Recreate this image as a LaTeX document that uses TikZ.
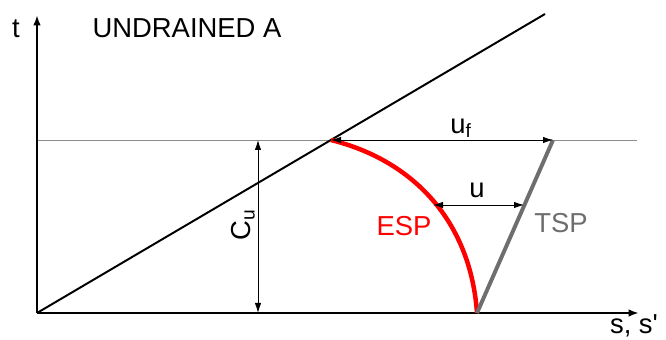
\documentclass[tikz,border=0pt]{standalone}
\usepackage{fontspec}
\setmainfont{Liberation Sans}
\usetikzlibrary{arrows.meta}
\usepackage{xcolor}
\definecolor{espred}{HTML}{FF0000}
\definecolor{tspgray}{HTML}{6E6E6E}
\definecolor{guide}{HTML}{8C8C8C}
\tikzset{
  axis/.style={line width=2.1pt, -{Latex[length=2.6mm, width=1.9mm]}},
  dim/.style={line width=0.6pt, {Latex[length=2.5mm, width=1.6mm]}-{Latex[length=2.5mm, width=1.6mm]}},
  lbl/.style={font=\fontsize{19.5}{22}\selectfont, inner sep=0pt},
  espline/.style={line width=3.2pt, draw=espred},
  tspline/.style={line width=2.8pt, draw=tspgray},
}

\begin{document}
\begin{tikzpicture}[x=0.025cm, y=0.025cm]
  \useasboundingbox (0,0) rectangle (666,340);
  % points of the plot
  \coordinate (O) at (37,27);
  \coordinate (ttop) at (37,325);
  \coordinate (send) at (639,27);
  \coordinate (kf) at (545,326);
  \coordinate (gl) at (37,200);
  \coordinate (gr) at (637,200);
  \coordinate (fail) at (331,200);
  \coordinate (tspA) at (477,27);
  \coordinate (tspB) at (553,200);
  \coordinate (ul) at (433,135);
  \coordinate (ur) at (524,135);
  \coordinate (cutop) at (258,200);
  \coordinate (cubot) at (258,27);
  % guide line and failure line
  \draw[guide, line width=0.6pt] (gl) -- (gr);
  \draw[line width=1.4pt] (O) -- (kf);
  % axes
  \draw[axis] (O) -- (ttop);
  \draw[axis] (O) -- (send);
  % stress paths
  \draw[espline] (fail) to[out=-14, in=94] (tspA);
  \draw[tspline] (tspA) -- (tspB);
  % dimensions
  \draw[dim] (fail) -- (tspB);
  \draw[dim] (ul) -- (ur);
  \draw[dim] (cutop) -- (cubot);
  % labels
  \node[lbl] (tlab) at (16,311) {t};
  \node[lbl] (title) at (187,312) {UNDRAINED A};
  \node[lbl] (slab) at (634,14) {s, s\textquotesingle};
  \node[lbl] (uflab) at (461,212) {u\textsubscript{f}};
  \node[lbl] (ulab) at (477,150) {u};
  \node[lbl, rotate=90] (culab) at (243,115) {C\textsubscript{u}};
  \node[lbl, text=espred] (esplab) at (404,114) {ESP};
  \node[lbl, text=tspgray] (tsplab) at (561,117) {TSP};
\end{tikzpicture}
\end{document}
